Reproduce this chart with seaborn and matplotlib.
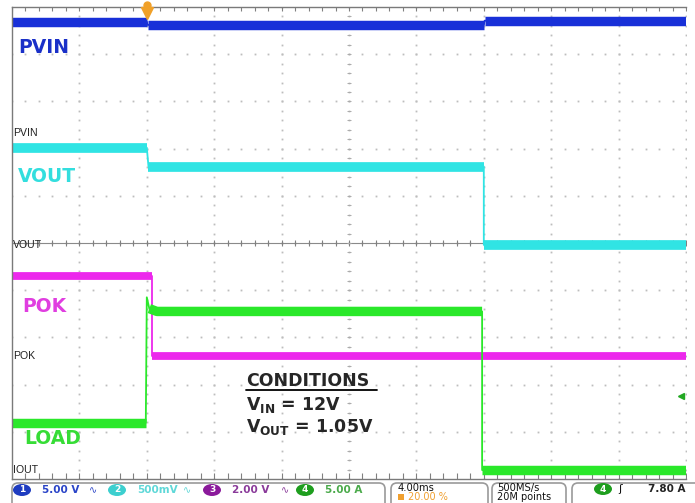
import numpy as np
import pandas as pd
import matplotlib
matplotlib.use('Agg')
import matplotlib.pyplot as plt
import seaborn as sns
from matplotlib.patches import FancyBboxPatch, Ellipse

# Scope capture: PVIN / VOUT / POK / IOUT during a load step
# time in ms (4 ms/div, trigger at 0), values in channel units
pvin_t = [-8, 0.0, 0.05, 20.0, 20.05, 32]
pvin_v = [11.8, 11.8, 11.45, 11.45, 11.9, 11.9]

vout_t = [-8, 0.0, 0.1, 20.0, 20.0, 32]
vout_v = [1.03, 1.03, 0.83, 0.83, 0.0, 0.0]

pok_t = [-8, 0.3, 0.3, 32]
pok_v = [3.4, 3.4, 0.0, 0.0]

iout_t = [-8, -0.06, 0.0, 0.15, 0.6, 19.9, 19.9, 32]
iout_v = [5.0, 5.0, 18.3, 17.1, 16.8, 16.8, 0.0, 0.0]

# channel ground position (div) and scale (units/div)
grounds = {'PVIN': 7.33, 'VOUT': 4.96, 'POK': 2.61, 'IOUT': 0.19}
scales = {'PVIN': 5.0, 'VOUT': 0.5, 'POK': 2.0, 'IOUT': 5.0}
trig_level = 7.8  # A

colors = {'PVIN': '#1830d8', 'VOUT': '#30e4e4', 'POK': '#ec28ec', 'IOUT': '#2ae82a'}
widths = {'PVIN': 6.8, 'VOUT': 7.0, 'POK': 5.6, 'IOUT': 6.8}

W, H = 695, 503
sns.set_style('white')
plt.rcParams['font.family'] = ['DejaVu Sans']

fig = plt.figure(figsize=(W / 100, H / 100), dpi=100)
ax = fig.add_axes([12 / W, (H - 479) / H, 674 / W, 472 / H])
ax.set_xlim(-8, 32)
ax.set_ylim(0, 10)


def px(x, y):
    # pixel position -> data coords of the graticule
    return -8 + (x - 12) / 674 * 40, (479 - y) / 47.2


def build(name, t, v):
    div = [grounds[name] + val / scales[name] for val in v]
    full = pd.DataFrame({'t': t, 'div': div})
    rows, unit = [], 0
    for i in range(len(t) - 1):
        if t[i + 1] - t[i] > 0.2:
            rows.append((t[i], div[i], unit))
            rows.append((t[i + 1], div[i + 1], unit))
        else:
            unit += 1
    thick = pd.DataFrame(rows, columns=['t', 'div', 'unit'])
    return full, thick


# graticule dots
xs = np.arange(-8, 32.01, 0.8)
ys = np.arange(0, 10.01, 0.2)
for r in range(1, 10):
    ax.plot(xs, [r] * len(xs), ls='none', marker='s', ms=1.3, color='#bdbdbd', mew=0)
for c in np.arange(-4, 32.01, 4):
    ax.plot([c] * len(ys), ys, ls='none', marker='s', ms=1.3, color='#bdbdbd', mew=0)

# center crosshair with ticks
ax.axhline(5, color='#8a8a8a', lw=0.8)
ax.plot(xs, [5] * len(xs), ls='none', marker='|', ms=5, color='#808080', mew=0.8)
ax.plot([12] * len(ys), ys, ls='none', marker='_', ms=3.5, color='#ababab', mew=0.7)
ax.plot(xs, [0] * len(xs), ls='none', marker=2, ms=4, color='#808080', mew=0.8)
ax.plot(xs, [10] * len(xs), ls='none', marker=3, ms=3, color='#808080', mew=0.8)
ax.plot([-8] * len(ys), ys, ls='none', marker=0, ms=3, color='#909090', mew=0.8)

traces = [('PVIN', pvin_t, pvin_v), ('VOUT', vout_t, vout_v),
          ('POK', pok_t, pok_v), ('IOUT', iout_t, iout_v)]
for name, t, v in traces:
    full, thick = build(name, t, v)
    sns.lineplot(data=full, x='t', y='div', estimator=None, sort=False,
                 color=colors[name], lw=1.3, ax=ax, legend=False)
    sns.lineplot(data=thick, x='t', y='div', units='unit', estimator=None, sort=False,
                 color=colors[name], lw=widths[name], solid_capstyle='butt',
                 ax=ax, legend=False)

ax.set_xlabel('')
ax.set_ylabel('')
ax.set_xticks([])
ax.set_yticks([])
for side in ['top', 'left', 'bottom']:
    ax.spines[side].set_color('#7a7a7a')
    ax.spines[side].set_linewidth(1.0)
ax.spines['right'].set_visible(False)

# big trace labels
for label, (x, y), col in [('PVIN', (18, 47), '#1a30c8'), ('VOUT', (18, 176), '#33dede'),
                           ('POK', (22, 306), '#e03ee0'), ('LOAD', (24, 438), '#36dc36')]:
    ax.text(*px(x, y), label, color=col, fontsize=13.5, fontweight='bold', va='center', ha='left')

# ground markers
for name in ['PVIN', 'VOUT', 'POK', 'IOUT']:
    ax.text(-7.95, grounds[name], name, fontsize=7.6, family=['Liberation Sans'],
            color='#222222', va='center', ha='left')

# conditions box
ax.text(*px(246, 381), 'CONDITIONS', fontsize=12.5, fontweight='bold', va='center', ha='left')
x0, yu = px(246, 390)
x1, _ = px(377, 390)
ax.plot([x0, x1], [yu, yu], color='black', lw=1.3)
ax.text(*px(246, 405), r'V$_{\mathbf{IN}}$ = 12V', fontsize=12.5, fontweight='bold',
        va='center', ha='left')
ax.text(*px(246, 427), r'V$_{\mathbf{OUT}}$ = 1.05V', fontsize=12.5, fontweight='bold',
        va='center', ha='left')

# trigger markers
ax.plot(0, px(0, 13)[1], marker='v', ms=8, color='#f0a028', clip_on=False, zorder=10)
ax.plot(0, px(0, 5)[1], marker='o', ms=5, color='#f0a028', clip_on=False, zorder=10)
ax.plot(31.7, grounds['IOUT'] + trig_level / scales['IOUT'], marker='<', ms=5,
        color='#22a822', clip_on=False, zorder=10)

# status bar
bar = fig.add_axes([0, 0, 1, 24 / H])
bar.set_xlim(0, W)
bar.set_ylim(H, 479)
bar.axis('off')

for (bx, bw) in [(12, 373), (391, 97), (492, 74), (572, 140)]:
    bar.add_patch(FancyBboxPatch((bx, 483), bw, 30, boxstyle='round,pad=0,rounding_size=6',
                                 fc='white', ec='#9a9a9a', lw=1.2))

chans = [('1', 22, '#1e3cc0', '5.00 V', 42, '#2a44c8'),
         ('2', 117, '#3ccfcf', '500mV', 137, '#5fd8d8'),
         ('3', 212, '#8b1a9b', '2.00 V', 232, '#8a3a9a'),
         ('4', 305, '#1e9e1e', '5.00 A', 325, '#4aaa4a')]
for num, cx, ccol, txt, tx, tcol in chans:
    bar.add_patch(Ellipse((cx, 490), 18, 12, fc=ccol, ec='none'))
    bar.text(cx, 490, num, color='white', fontsize=6.5, fontweight='bold', ha='center', va='center')
    bar.text(tx, 490, txt, color=tcol, fontsize=7.5, fontweight='bold', ha='left', va='center')
for sx, scol in [(93, '#2a44c8'), (187, '#5fd8d8'), (285, '#8a3a9a')]:
    bar.text(sx, 490, '∿', color=scol, fontsize=7, ha='center', va='center')

bar.text(398, 488, '4.00ms', color='#111111', fontsize=7.2, ha='left', va='center')
bar.add_patch(FancyBboxPatch((398, 494), 6, 6, boxstyle='square,pad=0', fc='#f0a030', ec='none'))
bar.text(408, 497.5, '20.00 %', color='#f0a030', fontsize=7.0, ha='left', va='center')
bar.text(497, 488, '500MS/s', color='#111111', fontsize=7.2, ha='left', va='center')
bar.text(497, 497.5, '20M points', color='#111111', fontsize=7.0, ha='left', va='center')

bar.add_patch(Ellipse((603, 489), 18, 12, fc='#1e9e1e', ec='none'))
bar.text(603, 489, '4', color='white', fontsize=6.5, fontweight='bold', ha='center', va='center')
bar.text(620, 489, 'ʃ', color='#111111', fontsize=8, ha='center', va='center')
bar.text(648, 489, '7.80 A', color='#222222', fontsize=7.5, fontweight='bold', ha='left', va='center')

fig.savefig('out.png', dpi=100)
